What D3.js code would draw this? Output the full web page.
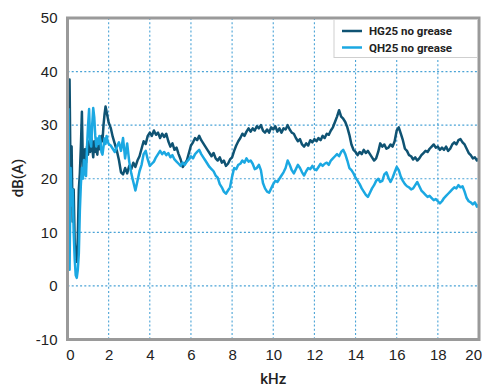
<!DOCTYPE html>
<html><head><meta charset="utf-8">
<script src="https://cdn.jsdelivr.net/npm/d3@7/dist/d3.min.js"></script>
<style>
html,body{margin:0;padding:0;background:#fff;}
svg{display:block;font-family:Roboto,"DejaVu Sans",sans-serif;}
</style></head>
<body>
<svg id="chart" width="482" height="387"></svg>
<script>
// ---- data ----
const seriesNames = ["HG25 no grease", "QH25 no grease"];
const xTicks = [0,2,4,6,8,10,12,14,16,18,20];
const yTicks = [-10,0,10,20,30,40,50];
// frequency grid (kHz): 0..2 by 0.05, then 2.1..20 by 0.1
const freq = d3.range(0, 41).map(i => i*0.05).concat(d3.range(21, 201).map(i => i/10));

const hg25 = [
 25,5,38.5,20,26,12,18,8,5,4.5,9,18,21,26,32.5,22,24,25.5,23,26,24.5,27,25,28,26,24,27,25,26.5,24.5,27,25.5,26.5,28,27,30,32,33.5,32.5,31.5,30.5,
 29.5,27.8,26.5,25.2,23.5,21.2,20.8,22.0,21.0,22.4,21.8,23.0,22.2,23.4,24.2,25.6,27.0,26.5,28.0,
 28.6,28.0,29.0,28.2,28.6,27.6,28.4,27.8,28.4,27.0,
 26.0,26.6,25.4,25.8,24.6,23.6,22.2,22.8,23.4,24.8,
 26.2,26.8,27.6,27.2,28.0,27.2,26.6,26.0,25.4,24.8,
 24.2,24.8,23.8,23.4,24.0,23.0,23.4,22.4,22.8,23.6,
 24.0,25.2,26.2,27.0,27.6,28.4,28.0,28.8,29.4,28.8,
 29.4,29.0,29.8,29.4,30.0,29.0,28.6,29.2,28.6,29.6,
 29.2,29.8,28.8,29.4,28.6,29.4,29.2,30.0,29.2,28.6,
 28.4,27.6,27.0,27.4,26.4,26.0,26.6,26.2,27.2,26.8,
 27.4,27.0,27.6,27.2,28.0,27.6,28.4,28.2,29.0,29.6,
 30.6,31.6,32.8,31.6,31.2,30.6,29.6,28.2,26.4,25.4,
 25.0,24.4,25.0,24.6,25.4,24.8,25.2,24.6,24.0,23.4,
 23.8,25.0,26.6,26.0,26.4,25.6,25.8,26.4,26.0,27.0,
 29.0,29.6,28.4,27.2,25.6,25.2,24.4,24.2,23.6,24.0,
 23.4,23.8,24.4,24.8,25.2,25.0,25.6,26.0,26.4,25.8,
 26.0,25.4,25.8,25.4,26.0,25.2,25.6,26.4,26.8,26.4,
 27.2,27.4,26.8,26.4,25.6,24.8,24.4,23.8,24.0,23.4,
 23.8
];
const qh25 = [
 8,33,3,22,15,18,10,5,2,1.5,3,6,14,19,22,20,23.5,21,20.5,26,30,33,27,26,30,33.2,31.5,28,26,27.5,26.5,28,27,25,24.5,26,27.5,26.5,28,27,26.5,
 26.2,25.6,25.0,26.0,26.8,25.2,27.6,23.8,26.6,23.2,21.0,19.4,17.8,19.6,21.4,22.6,24.6,25.2,23.6,
 22.4,22.8,23.2,24.0,24.6,25.2,24.6,25.0,24.4,24.8,
 24.0,24.4,23.6,23.2,22.8,22.4,23.0,22.6,23.2,23.6,
 24.2,23.8,24.6,25.0,25.4,24.6,24.0,23.4,22.8,22.2,
 21.8,21.4,20.6,20.2,19.0,18.4,17.6,17.2,17.8,18.4,
 20.4,22.0,21.8,22.6,22.8,23.4,23.0,23.8,23.2,23.4,
 22.8,21.8,22.0,22.6,21.6,19.2,18.2,17.6,17.4,18.2,
 19.0,19.6,19.4,20.0,20.6,21.2,22.0,23.4,22.6,21.6,
 21.0,21.8,22.6,22.0,21.2,20.6,21.4,22.0,21.8,22.4,
 21.8,21.6,22.2,22.8,22.4,22.8,23.0,22.6,23.4,23.8,
 24.2,24.6,24.2,25.0,25.4,24.6,23.4,22.0,21.6,21.0,
 20.2,19.6,19.0,18.2,17.6,17.0,16.6,17.4,18.2,18.8,
 19.6,20.0,19.4,19.6,20.8,21.2,20.2,19.4,20.2,21.2,
 22.2,21.6,20.4,19.6,19.0,18.6,18.4,18.0,18.2,18.8,
 19.4,18.6,17.8,17.4,17.0,16.6,16.8,16.4,16.0,16.2,
 15.8,15.4,15.8,16.4,16.8,17.2,17.6,18.0,18.4,18.2,
 18.8,18.4,18.6,17.6,16.4,15.8,15.6,15.2,15.6,14.8,
 15.2
];
const colors = ["#0f5373", "#1ba8e2"];

// ---- chart ----
const svg = d3.select("#chart");
const L = 67.5, R = 479, T = 18, B = 339.5;
const x = d3.scaleLinear().domain([0,20]).range([L,R]);
const y = d3.scaleLinear().domain([-10,50]).range([B,T]);

// gridlines
const grid = svg.append("g").attr("stroke","#4aa3d6").attr("stroke-width",1.1).attr("stroke-dasharray","2,2.2");
grid.selectAll("line.h").data(yTicks.filter(v => v>-10 && v<50)).join("line")
  .attr("x1",L).attr("x2",R).attr("y1",d=>y(d)).attr("y2",d=>y(d));
grid.selectAll("line.v").data(xTicks.filter(v => v>0 && v<20)).join("line")
  .attr("y1",T).attr("y2",B).attr("x1",d=>x(d)).attr("x2",d=>x(d));

// lines
const line = d3.line().x((d,i)=>x(freq[i])).y(d=>y(d));
[hg25, qh25].forEach((s,k)=>{
  svg.append("path").datum(s).attr("d",line).attr("fill","none")
    .attr("stroke",colors[k]).attr("stroke-width",2.5).attr("stroke-linejoin","round");
});

// frame
svg.append("rect").attr("x",L).attr("y",T).attr("width",R-L).attr("height",B-T)
  .attr("fill","none").attr("stroke","#9a9a9a").attr("stroke-width",3);

// axes labels
const fmt = d => String(d);
const xa = d3.axisBottom(x).tickValues(xTicks).tickSize(0).tickPadding(9).tickFormat(fmt);
const gx = svg.append("g").attr("transform",`translate(0,${B+1})`).call(xa);
gx.select(".domain").remove();
gx.selectAll("text").attr("font-size",15).attr("font-weight",500).attr("fill","#222");
gx.selectAll(".tick").filter(d => d === 20).select("text").attr("text-anchor","end").attr("x",2.5);
gx.selectAll(".tick").filter(d => d === 0).select("text").attr("x",2.5);
const ya = d3.axisLeft(y).tickValues(yTicks).tickSize(0).tickPadding(9).tickFormat(fmt);
const gy = svg.append("g").attr("transform",`translate(${L-1},0)`).call(ya);
gy.select(".domain").remove();
gy.selectAll("text").attr("font-size",15).attr("font-weight",500).attr("fill","#222");

svg.append("text").attr("x",(L+R)/2).attr("y",384).attr("text-anchor","middle")
  .attr("font-size",15).attr("font-weight",500).attr("fill","#222").text("kHz");
svg.append("text").attr("transform","translate(23,178) rotate(-90)").attr("text-anchor","middle")
  .attr("font-size",15).attr("font-weight",500).attr("fill","#222").text("dB(A)");

// legend
const lg = svg.append("g");
lg.append("rect").attr("x",334).attr("y",T+1.5).attr("width",R-334-1.5).attr("height",38)
  .attr("fill","#fff").attr("stroke","#cfcfcf").attr("stroke-width",1);
seriesNames.forEach((n,i)=>{
  const yy = 31 + i*16.5;
  lg.append("line").attr("x1",342).attr("x2",362).attr("y1",yy).attr("y2",yy)
    .attr("stroke",colors[i]).attr("stroke-width",2.5);
  lg.append("text").attr("x",369).attr("y",yy+4).attr("font-size",11.5).attr("font-weight",700)
    .attr("fill","#222").text(n);
});
</script>
</body></html>
